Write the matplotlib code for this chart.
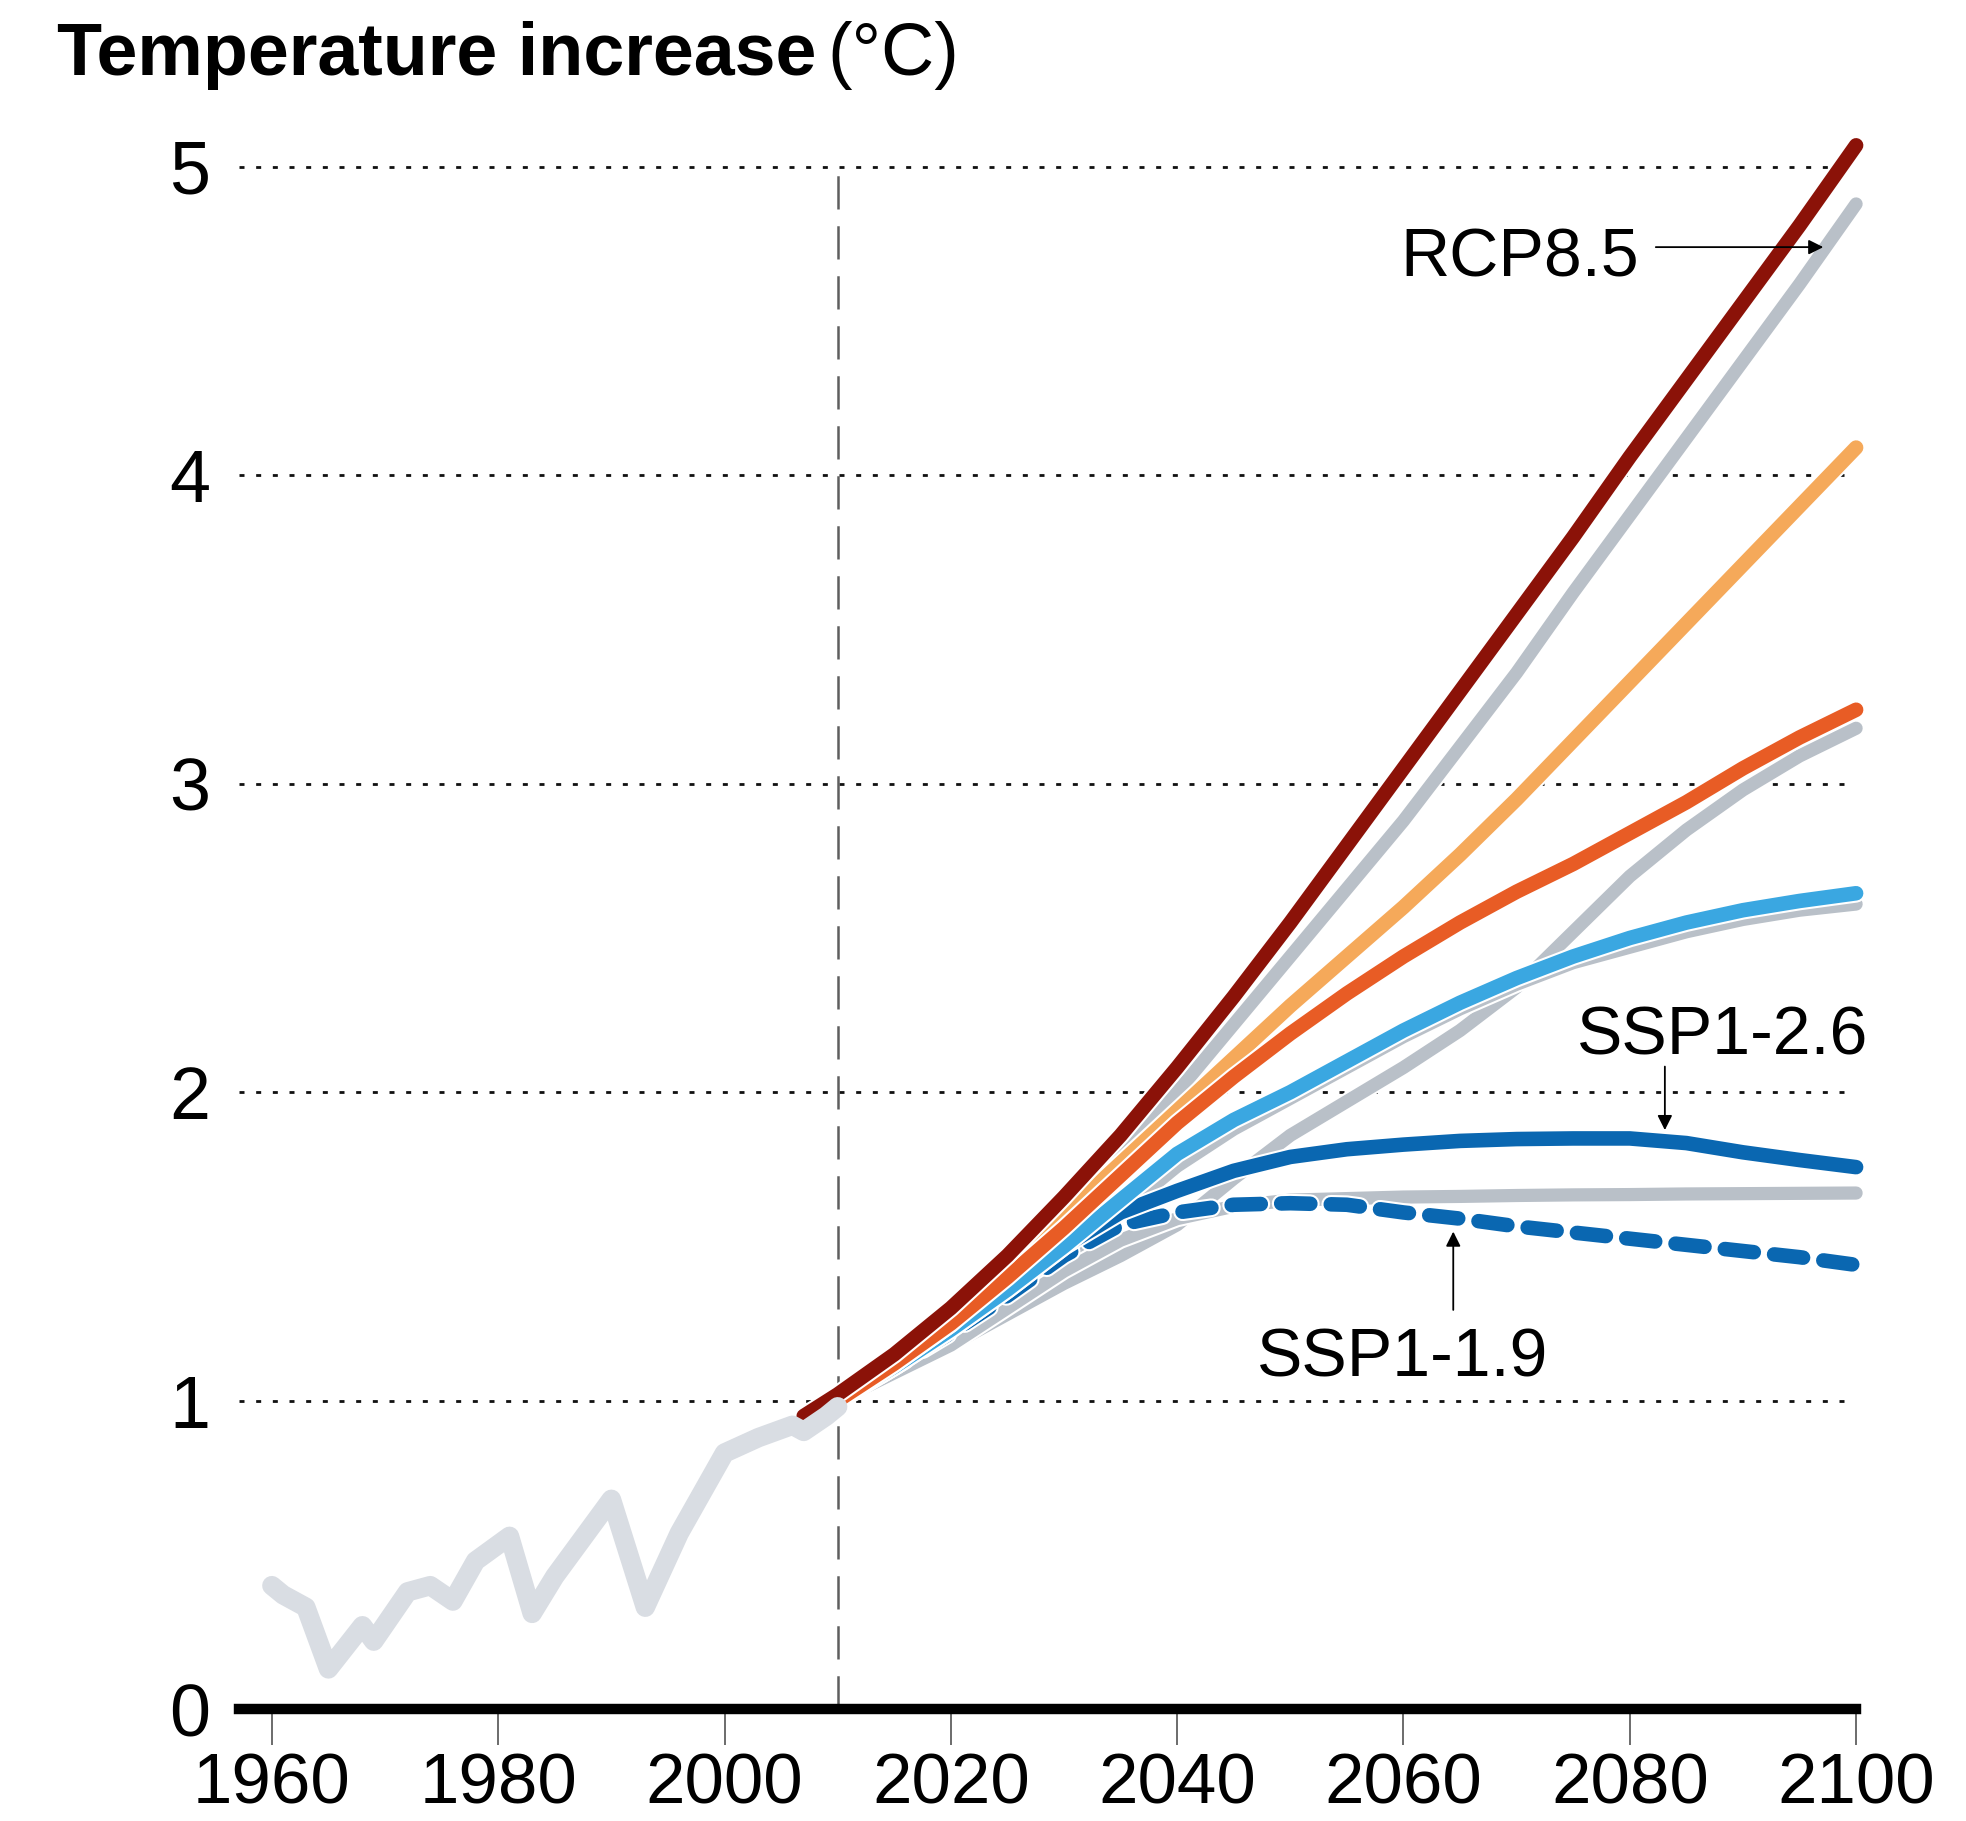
import matplotlib
matplotlib.use("Agg")
import matplotlib.pyplot as plt
import matplotlib.patheffects as pe

plt.rcParams["font.family"] = ["Liberation Sans", "DejaVu Sans"]

# observed record
hist_years = [1960, 1961, 1963, 1965, 1968, 1969, 1972, 1974, 1976, 1978, 1981,
              1983, 1985, 1990, 1993, 1996, 2000, 2003, 2006, 2007, 2009, 2010]
hist_vals = [0.40, 0.37, 0.33, 0.13, 0.27, 0.22, 0.38, 0.40, 0.35, 0.48, 0.56,
             0.31, 0.43, 0.68, 0.33, 0.57, 0.83, 0.88, 0.92, 0.90, 0.95, 0.98]

# projections, 5-year steps
years5 = [2010, 2015, 2020, 2025, 2030, 2035, 2040, 2045, 2050, 2055,
          2060, 2065, 2070, 2075, 2080, 2085, 2090, 2095, 2100]
red_dark_years = [2007] + years5
red_dark = [0.95, 1.02, 1.15, 1.30, 1.47, 1.66, 1.86, 2.08, 2.31, 2.55, 2.80,
            3.05, 3.30, 3.55, 3.80, 4.06, 4.31, 4.56, 4.81, 5.07]
orange_light = [1.0, 1.12, 1.25, 1.42, 1.60, 1.77, 1.94, 2.11, 2.28, 2.44,
                2.60, 2.77, 2.95, 3.14, 3.33, 3.52, 3.71, 3.90, 4.09]
orange_red = [1.0, 1.12, 1.25, 1.40, 1.56, 1.73, 1.90, 2.05, 2.19, 2.32,
              2.44, 2.55, 2.65, 2.74, 2.84, 2.94, 3.05, 3.15, 3.24]
blue_light = [1.0, 1.11, 1.23, 1.36, 1.50, 1.65, 1.80, 1.91, 2.00, 2.10,
              2.20, 2.29, 2.37, 2.44, 2.50, 2.55, 2.59, 2.62, 2.645]
ssp126 = [1.0, 1.11, 1.23, 1.36, 1.50, 1.61, 1.68, 1.745, 1.79, 1.815,
          1.83, 1.842, 1.848, 1.85, 1.85, 1.835, 1.805, 1.78, 1.757]
ssp119 = [1.0, 1.11, 1.22, 1.34, 1.47, 1.57, 1.61, 1.635, 1.64, 1.635,
          1.61, 1.59, 1.565, 1.545, 1.525, 1.505, 1.485, 1.465, 1.44]

# grey (older) projections
grey_rcp85 = [1.0, 1.12, 1.25, 1.42, 1.61, 1.80, 2.00, 2.22, 2.44, 2.66,
              2.88, 3.12, 3.36, 3.62, 3.87, 4.12, 4.37, 4.62, 4.88]
grey_b = [1.0, 1.09, 1.18, 1.28, 1.38, 1.47, 1.57, 1.72, 1.86, 1.97,
          2.08, 2.20, 2.34, 2.52, 2.70, 2.85, 2.98, 3.09, 3.18]
grey_c = [1.0, 1.10, 1.20, 1.33, 1.46, 1.61, 1.76, 1.88, 1.98, 2.08,
          2.18, 2.27, 2.35, 2.42, 2.47, 2.52, 2.56, 2.59, 2.61]
grey_d = [1.0, 1.09, 1.18, 1.30, 1.42, 1.52, 1.59, 1.63, 1.65, 1.655,
          1.66, 1.662, 1.665, 1.667, 1.668, 1.67, 1.671, 1.672, 1.673]

x_ticks = [1960, 1980, 2000, 2020, 2040, 2060, 2080, 2100]
y_ticks = [0, 1, 2, 3, 4, 5]

GREY = "#b9c0c8"
LW = 10.5


def halo(lw):
    return [pe.Stroke(linewidth=lw + 3, foreground="white"), pe.Normal()]


fig = plt.figure(figsize=(19.66, 18.21), dpi=100)
fig.patch.set_facecolor("white")
ax = fig.add_axes([0.1216, 0.0615, 0.8225, 0.8807])
ax.set_xlim(1957.1, 2100)
ax.set_ylim(0, 5.2)

# dotted grid
ax.hlines(y_ticks[1:], 1957.1, 2100, colors="#111111", linestyles=(0, (1.8, 4.2)),
          lw=2.0, zorder=1)
# present-day marker
ax.plot([2010, 2010], [0, 5], color="#5e5e5e", lw=1.8, ls=(0, (13.3, 6.7)), zorder=1.5)

for vals in [grey_rcp85, grey_b, grey_c, grey_d]:
    ax.plot(years5, vals, color=GREY, lw=LW - 1, solid_capstyle="round",
            path_effects=halo(LW - 1), zorder=3, clip_on=False)

ax.plot(years5, ssp119, color="#0a67b1", lw=LW, ls=(0, (2.0, 1.4)),
        dash_capstyle="round", path_effects=halo(LW), zorder=4, clip_on=False)
ax.plot(years5, ssp126, color="#0a67b1", lw=LW, solid_capstyle="round",
        path_effects=halo(LW), zorder=5, clip_on=False)
ax.plot(years5, blue_light, color="#3aa7e1", lw=LW, solid_capstyle="round",
        path_effects=halo(LW), zorder=6, clip_on=False)
ax.plot(years5, orange_light, color="#f5a95a", lw=LW, solid_capstyle="round",
        path_effects=halo(LW), zorder=6.5, clip_on=False)
ax.plot(years5, orange_red, color="#e85c25", lw=LW, solid_capstyle="round",
        path_effects=halo(LW), zorder=7, clip_on=False)
ax.plot(red_dark_years, red_dark, color="#8b1208", lw=LW, solid_capstyle="round",
        path_effects=halo(LW), zorder=8, clip_on=False)

# observations
ax.plot(hist_years, hist_vals, color="#d9dde3", lw=14, solid_capstyle="round",
        solid_joinstyle="round", zorder=9)

# labels
arrow = dict(arrowstyle="-|>", color="black", lw=1.3, mutation_scale=22,
             shrinkA=0, shrinkB=0)
ax.text(2080.8, 4.646, "RCP8.5", ha="right", va="baseline", fontsize=49, zorder=10)
ax.annotate("", xy=(2097.1, 4.74), xytext=(2082.3, 4.74), arrowprops=arrow, zorder=10)
ax.text(2088.2, 2.121, "SSP1-2.6", ha="center", va="baseline", fontsize=49, zorder=10)
ax.annotate("", xy=(2083.1, 1.877), xytext=(2083.1, 2.083), arrowprops=arrow, zorder=10)
ax.text(2059.9, 1.078, "SSP1-1.9", ha="center", va="baseline", fontsize=49, zorder=10)
ax.annotate("", xy=(2064.4, 1.548), xytext=(2064.4, 1.294), arrowprops=arrow, zorder=10)

# axes styling
for s in ["left", "right", "top"]:
    ax.spines[s].set_visible(False)
ax.spines["bottom"].set_linewidth(7.5)
ax.spines["bottom"].set_zorder(10)
ax.set_xticks(x_ticks)
ax.set_yticks(y_ticks)
ax.tick_params(axis="x", length=26, width=1.1, color="#444444", pad=5, labelsize=51)
ax.tick_params(axis="y", length=0, pad=21, labelsize=53)

t1 = fig.text(57 / 1966, 1 - 75 / 1821, "Temperature increase", fontsize=53,
              fontweight="bold", va="baseline", ha="left")
fig.canvas.draw()
ax.annotate("(°C)", xy=(1, 0), xycoords=t1, xytext=(8, 0), textcoords="offset points",
            fontsize=53, va="bottom", ha="left", annotation_clip=False)

fig.savefig("out.png", dpi=100, facecolor="white")
